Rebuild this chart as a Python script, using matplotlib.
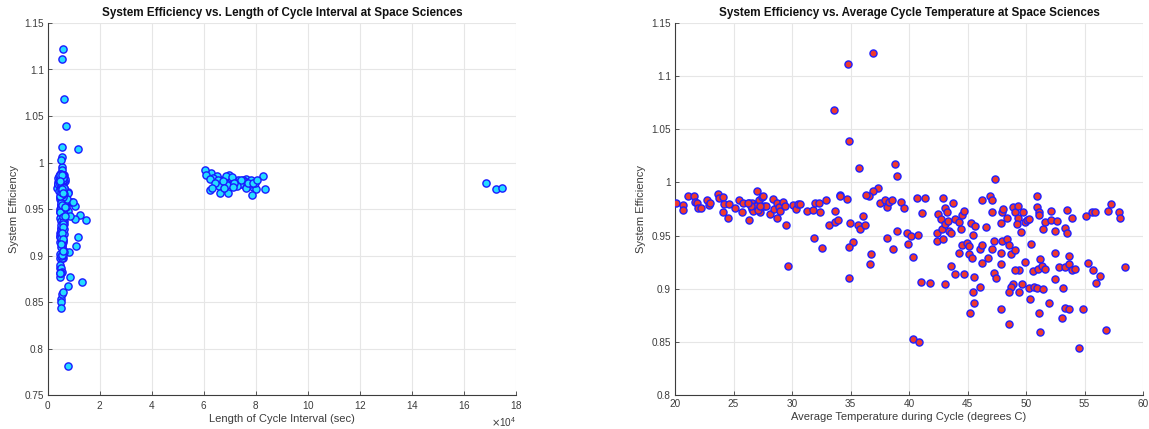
import matplotlib
matplotlib.use("Agg")
import matplotlib.pyplot as plt
from matplotlib.ticker import ScalarFormatter, FuncFormatter

plt.rcParams['font.family'] = ['Liberation Sans', 'DejaVu Sans']

# Per-cycle measurements at Space Sciences: average temperature during the
# cycle (deg C), system efficiency, and length of the cycle interval (sec).
avg_temp_c = [
    20.1, 20.7, 20.7, 21.1, 21.6, 21.7, 21.9, 22.0, 22.2, 22.7,
    22.9, 23.0, 23.7, 23.8, 24.1, 24.2, 24.1, 24.5, 24.6, 25.1,
    25.5, 25.8, 25.7, 26.3, 26.3, 26.6, 26.8, 27.0, 27.1, 27.2,
    27.3, 27.4, 27.5, 27.6, 27.8, 28.1, 28.4, 28.5, 28.7, 28.7,
    28.9, 29.0, 29.2, 29.4, 29.5, 29.7, 30.1, 30.3, 30.5, 30.7,
    31.3, 31.8, 31.9, 32.0, 32.3, 32.4, 32.6, 32.9, 33.2, 33.6,
    33.7, 33.7, 26.6, 26.7, 26.9, 27.1, 27.3, 26.5, 26.2, 33.9,
    34.8, 36.94, 34.89, 35.69, 38.83, 38.94, 37.37, 36.94, 36.54, 36.29,
    34.14, 34.09, 34.74, 34.94, 35.23, 34.89, 34.86, 35.6, 35.8, 36.06,
    36.23, 36.74, 36.66, 37.51, 37.94, 38.09, 38.31, 38.57, 38.14, 38.66,
    39.0, 39.29, 39.57, 39.86, 39.91, 40.17, 40.31, 40.37, 40.89, 40.66,
    40.77, 41.0, 41.11, 41.4, 41.8, 42.94, 43.06, 42.49, 42.71, 42.43,
    42.43, 42.89, 42.83, 43.11, 43.23, 43.11, 43.37, 43.46, 43.57, 43.74,
    43.57, 43.91, 43.91, 44.26, 44.43, 44.54, 44.66, 44.31, 44.54, 44.71,
    44.94, 45.11, 45.17, 45.34, 45.51, 45.63, 45.4, 45.57, 45.46, 45.57,
    45.23, 46.03, 46.2, 46.09, 46.23, 46.2, 46.6, 46.77, 46.89, 47.06,
    47.11, 47.23, 47.11, 47.23, 47.34,
    47.43, 47.89, 47.94, 48.0, 48.34, 47.94, 48.34, 47.89, 48.57, 48.69,
    49.03, 47.89, 48.86, 49.03, 49.29, 49.29, 49.26, 49.6, 49.71, 49.89,
    50.11, 50.23, 50.97, 50.91, 51.09, 51.14, 51.6, 51.43, 52.11, 52.17,
    52.69, 52.46, 53.31, 53.49, 53.89, 53.49, 55.11, 55.63, 55.91, 57.0,
    57.23, 57.97, 58.03, 58.46, 50.4, 49.89, 49.37, 49.03, 48.91, 48.74,
    48.51, 49.37, 49.66, 50.23, 50.69, 50.91, 51.43, 50.34, 50.57, 51.0,
    51.2, 51.37, 51.66, 51.94, 51.14, 51.2, 52.51, 52.46, 52.86, 53.14,
    53.31, 53.66, 53.71, 53.89, 54.23, 53.31, 53.71, 53.09, 54.91, 54.57,
    55.31, 55.74, 56.31, 55.97, 56.86, 47.89, 48.57, 44.0,
]

system_eff = [
    0.981, 0.979, 0.974, 0.987, 0.987, 0.982, 0.981, 0.976, 0.976, 0.983,
    0.979, 0.981, 0.989, 0.985, 0.986, 0.980, 0.972, 0.967, 0.980, 0.976,
    0.983, 0.981, 0.972, 0.965, 0.981, 0.981, 0.977, 0.992, 0.981, 0.983,
    0.972, 0.986, 0.987, 0.978, 0.978, 0.970, 0.984, 0.975, 0.981, 0.967,
    0.977, 0.973, 0.982, 0.978, 0.960, 0.921, 0.979, 0.975, 0.980, 0.980,
    0.973, 0.974, 0.948, 0.981, 0.981, 0.972, 0.938, 0.983, 0.960, 1.068,
    0.973, 0.963, 0.975, 0.973, 0.978, 0.974, 0.978, 0.978, 0.981, 0.965,
    1.111, 1.122, 1.039, 1.014, 1.017, 1.006, 0.995, 0.992, 0.987, 0.988,
    0.988, 0.987, 0.984, 0.962, 0.944, 0.939, 0.910, 0.960, 0.956, 0.968,
    0.960, 0.933, 0.923, 0.981, 0.983, 0.977, 0.982, 0.983, 0.948, 0.937,
    0.954, 0.982, 0.976, 0.952, 0.942, 0.950, 0.930, 0.853, 0.850, 0.985,
    0.951, 0.906, 0.971, 0.985, 0.905, 0.985, 0.904, 0.970, 0.966, 0.952,
    0.945, 0.947, 0.956, 0.976, 0.972, 0.961, 0.964, 0.954, 0.952, 0.981,
    0.921, 0.914, 0.966, 0.963, 0.956, 0.969, 0.973, 0.934, 0.941, 0.914,
    0.943, 0.940, 0.933, 0.962, 0.951, 0.959, 0.929, 0.911, 0.897, 0.887,
    0.877, 0.937, 0.941, 0.902, 0.924, 0.983, 0.958, 0.929, 0.987, 0.983,
    0.972, 0.945, 0.937, 0.915, 1.003,
    0.910, 0.962, 0.972, 0.975, 0.967, 0.945, 0.947, 0.934, 0.941, 0.933,
    0.936, 0.923, 0.977, 0.972, 0.978, 0.967, 0.961, 0.953, 0.972, 0.963,
    0.965, 0.966, 0.987, 0.977, 0.972, 0.969, 0.963, 0.956, 0.965, 0.973,
    0.964, 0.954, 0.957, 0.974, 0.967, 0.952, 0.968, 0.972, 0.972, 0.973,
    0.980, 0.972, 0.967, 0.920, 0.942, 0.925, 0.918, 0.918, 0.904, 0.902,
    0.897, 0.897, 0.904, 0.901, 0.902, 0.901, 0.900, 0.890, 0.917, 0.919,
    0.928, 0.921, 0.919, 0.887, 0.877, 0.859, 0.934, 0.909, 0.920, 0.901,
    0.920, 0.931, 0.923, 0.918, 0.919, 0.882, 0.881, 0.872, 0.881, 0.844,
    0.924, 0.918, 0.912, 0.905, 0.861, 0.881, 0.867, 0.781,
]

cycle_len_s = [
    66700, 72500, 79000, 5600, 69600, 76300, 75000, 3900, 75200, 69200,
    75600, 68000, 62800, 65000, 82500, 69900, 80100, 69400, 77600, 68800,
    63500, 73100, 83300, 78400, 65400, 71200, 73700, 60300, 74400, 70500,
    172200, 68600, 60900, 168600, 79500, 62400, 70900, 65800, 78200, 66300,
    77800, 174800, 62200, 64100, 7200, 5300, 3700, 5800, 6400, 67300,
    63200, 5100, 7400, 5500, 4400, 6000, 14500, 3800, 5000, 6000,
    67600, 6600, 72700, 76100, 71400, 71000, 76900, 78800, 80400, 5700,
    5500, 5600, 6800, 11500, 5500, 5300, 5200, 5400, 6100, 4800,
    5000, 5900, 4600, 5600, 12400, 10300, 10700, 6900, 7300, 7800,
    5400, 5200, 4900, 6300, 4700, 5200, 6600, 4500, 7500, 6200,
    5000, 5700, 3900, 5300, 6500, 4800, 5100, 4900, 5100, 5600,
    6000, 5800, 4900, 5300, 6300, 4400, 8200, 5500, 6100, 5200,
    5900, 4700, 6400, 3800, 5800, 4600, 5300, 5100, 7100, 5600,
    5400, 4800, 6200, 4900, 5700, 5200, 3600, 6000, 5100, 5500,
    8600, 4700, 5300, 5800, 5000, 6700, 5600, 5200, 5600, 4700,
    8300, 5400, 6300, 5100, 4800, 5300, 9100, 5000, 4600, 5700,
    5100, 6000, 4900, 5800, 5000,
    5200, 6100, 4800, 5400, 7800, 5500, 4700, 5200, 5900, 4900,
    5600, 6200, 3700, 5800, 4500, 5300, 7400, 10200, 5100, 4700,
    5500, 6000, 5200, 4800, 5600, 4400, 5900, 5000, 5300, 6200,
    4600, 5400, 9700, 5100, 5700, 6400, 4900, 5500, 5000, 6100,
    4700, 5300, 5800, 5200, 6600, 5000, 5400, 4900, 5700, 5100,
    4800, 5500, 6000, 5300, 4600, 5800, 5000, 4500, 5600, 5200,
    6100, 4700, 5400, 5000, 4800, 5300, 5900, 5100, 11700, 5400,
    4600, 5700, 5000, 5200, 4900, 5500, 5000, 13200, 4700, 5000,
    5300, 5900, 5100, 5600, 5600, 4600, 7800, 7600,
]

interval_ticks = [0, 20000, 40000, 60000, 80000, 100000, 120000, 140000, 160000, 180000]
temp_ticks = [20, 25, 30, 35, 40, 45, 50, 55, 60]
eff_ticks_left = [0.75, 0.8, 0.85, 0.9, 0.95, 1.0, 1.05, 1.1, 1.15]
eff_ticks_right = [0.8, 0.85, 0.9, 0.95, 1.0, 1.05, 1.1, 1.15]

AXIS_COLOR = '#3c3c3c'
TEXT_COLOR = '#3c3c3c'

fig = plt.figure(figsize=(11.49, 4.29), dpi=100)
W, H = 1149.0, 429.0
ax1 = fig.add_axes([48 / W, 34 / H, 468 / W, 372 / H])
ax2 = fig.add_axes([675 / W, 34 / H, 468 / W, 372 / H])


def style_axes(ax):
    ax.grid(True, color='#e6e6e6', linewidth=0.8)
    ax.set_axisbelow(True)
    for side in ('top', 'right'):
        ax.spines[side].set_visible(False)
    for side in ('left', 'bottom'):
        ax.spines[side].set_color(AXIS_COLOR)
        ax.spines[side].set_linewidth(0.8)
    ax.tick_params(direction='in', length=3, width=0.6, color=AXIS_COLOR,
                   labelcolor=TEXT_COLOR, labelsize=7.2, pad=3)
    ax.yaxis.set_major_formatter(FuncFormatter(lambda v, p: f'{round(v, 4):g}'))


# Left: efficiency vs. cycle interval length
ax1.scatter(cycle_len_s, system_eff, s=27, facecolors='#25dcff',
            edgecolors='#1a1aff', linewidths=1.0, zorder=3)
ax1.set_xlim(0, 180000)
ax1.set_ylim(0.75, 1.15)
ax1.set_xticks(interval_ticks)
ax1.set_yticks(eff_ticks_left)
style_axes(ax1)
fmt = ScalarFormatter(useMathText=True)
fmt.set_powerlimits((4, 4))
ax1.xaxis.set_major_formatter(fmt)
ax1.xaxis.get_offset_text().set_fontsize(7.2)
ax1.xaxis.get_offset_text().set_color(TEXT_COLOR)
ax1.set_xlabel('Length of Cycle Interval (sec)', fontsize=8, color=TEXT_COLOR, labelpad=2)
ax1.set_ylabel('System Efficiency', fontsize=8, color=TEXT_COLOR, labelpad=4)
ax1.set_title('System Efficiency vs. Length of Cycle Interval at Space Sciences',
              fontsize=8.4, fontweight='bold', color='#111111', pad=5)

# Right: efficiency vs. average cycle temperature
ax2.scatter(avg_temp_c, system_eff, s=26, facecolors='#ee3a2e',
            edgecolors='#1f1fff', linewidths=1.0, zorder=3)
ax2.set_xlim(20, 60)
ax2.set_ylim(0.8, 1.15)
ax2.set_xticks(temp_ticks)
ax2.set_yticks(eff_ticks_right)
style_axes(ax2)
ax2.set_xlabel('Average Temperature during Cycle (degrees C)', fontsize=8,
               color=TEXT_COLOR, labelpad=2)
ax2.set_ylabel('System Efficiency', fontsize=8, color=TEXT_COLOR, labelpad=4)
ax2.set_title('System Efficiency vs. Average Cycle Temperature at Space Sciences',
              fontsize=8.4, fontweight='bold', color='#111111', pad=5)

fig.savefig('out.png', dpi=100, facecolor='white')
